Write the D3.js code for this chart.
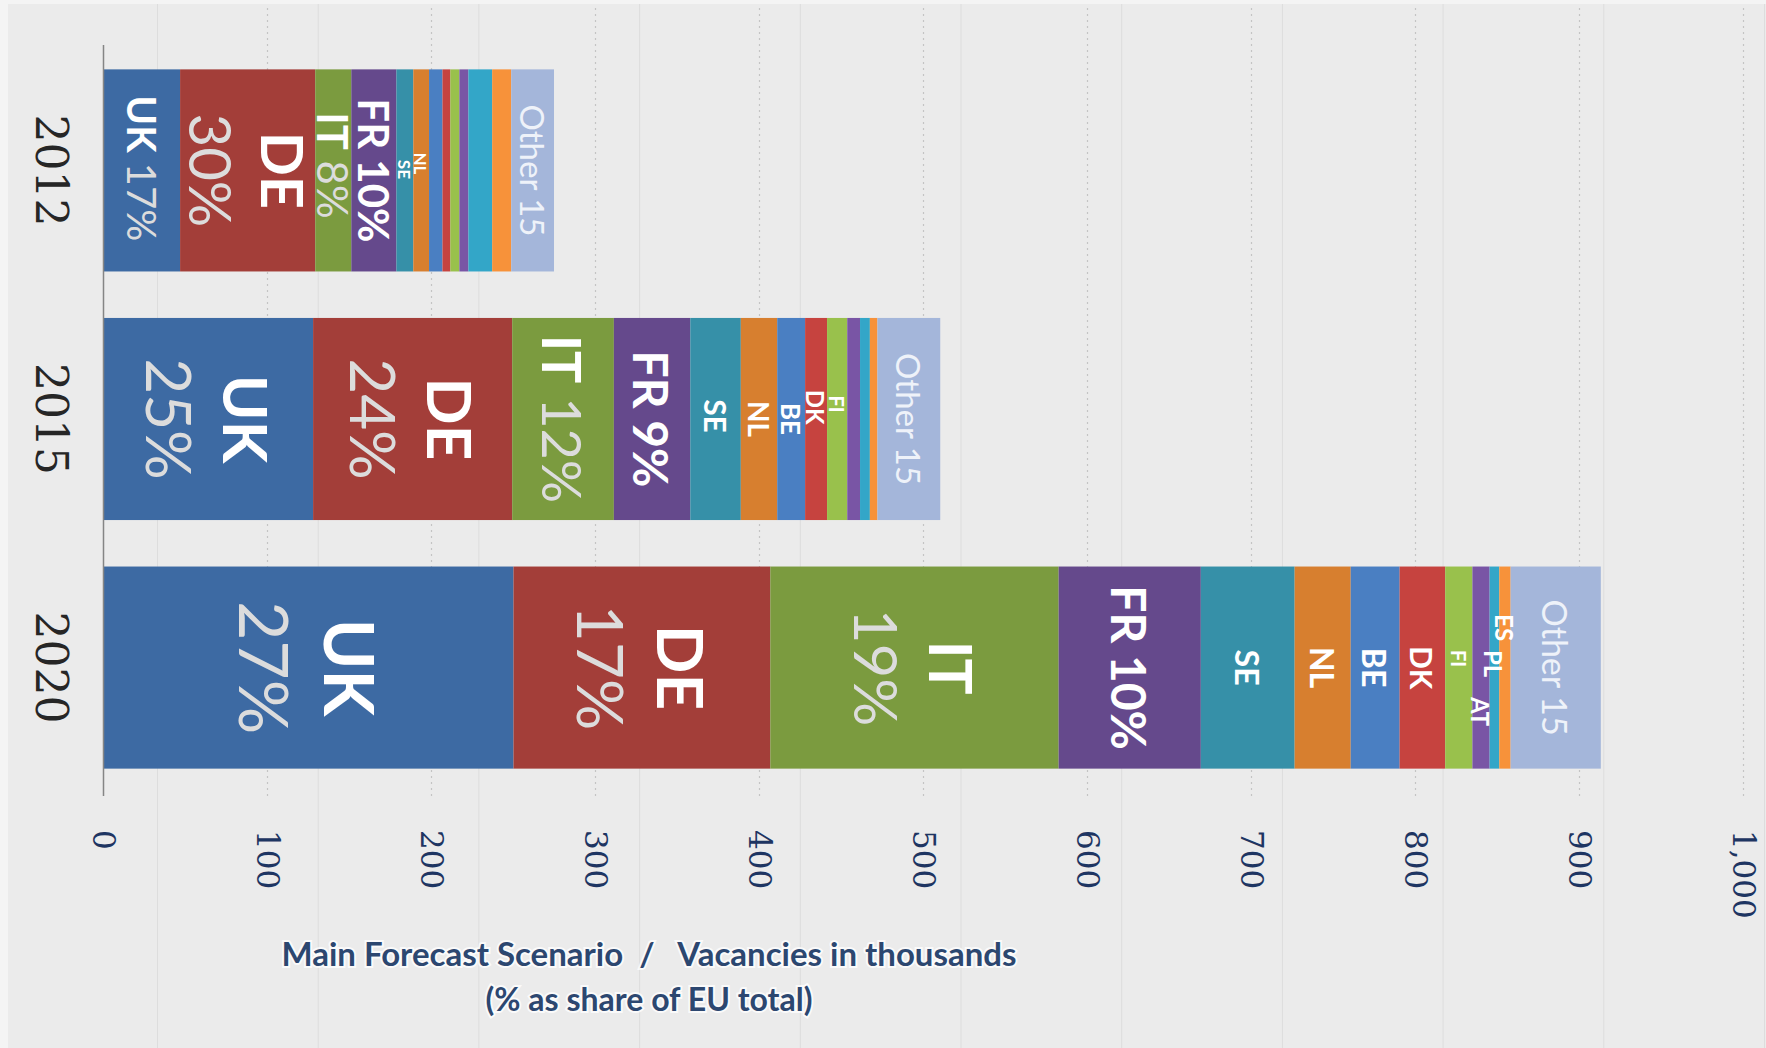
<!DOCTYPE html>
<html>
<head>
<meta charset="utf-8">
<script src="https://cdn.jsdelivr.net/npm/d3@7"></script>
<style>
  body { margin: 0; background: #f4f4f4; }
  svg { display: block; }
  text { white-space: pre; }
</style>
</head>
<body>
<svg id="chart"></svg>
<script>
// vacancies in thousands
const years = ["2012", "2015", "2020"];
const countries = ["UK", "DE", "IT", "FR", "SE", "NL", "BE", "DK", "FI", "AT", "PL", "ES", "Other 15"];
const vac2012 = [46.7, 82.4, 22.0, 27.5, 10.3, 9.6, 8.2, 4.8, 5.5, 5.5, 14.5, 11.6, 26.1];
const vac2015 = [127.8, 121.4, 62.0, 46.6, 30.8, 22.2, 17.0, 13.4, 12.3, 7.8, 6.0, 4.6, 38.3];
const vac2020 = [250.0, 156.6, 175.8, 86.7, 57.2, 34.2, 29.8, 27.8, 16.6, 10.5, 5.9, 6.9, 55.0];
const labels2012 = ["UK 17%", "DE\n30%", "IT 8%", "FR 10%", "SE", "NL", "", "", "", "", "", "", "Other 15"];
const labels2015 = ["UK\n25%", "DE\n24%", "IT 12%", "FR 9%", "SE", "NL", "BE", "DK", "FI", "", "", "", "Other 15"];
const labels2020 = ["UK\n27%", "DE\n17%", "IT\n19%", "FR 10%", "SE", "NL", "BE", "DK", "FI", "AT", "PL", "ES", "Other 15"];
const tickValues = [0, 100, 200, 300, 400, 500, 600, 700, 800, 900, 1000];
const titleLines = ["Main Forecast Scenario  /   Vacancies in thousands", "(% as share of EU total)"];

const values = { "2012": vac2012, "2015": vac2015, "2020": vac2020 };
const labels = { "2012": labels2012, "2015": labels2015, "2020": labels2020 };

const colors = ["#3d6aa3", "#a33e39", "#7b9b3f", "#65498c", "#3690a8", "#d77f2f",
  "#4a7fc2", "#c6433f", "#99c14c", "#7955a5", "#33a6c8", "#f7923a", "#a4b6da"];

// label sizes and nudges along the reading direction
const labelSize = {
  "2012": [40, 58, 42, 42, 17, 17, 0, 0, 0, 0, 0, 0, 33],
  "2015": [62, 62, 54, 48, 30, 28, 26, 24, 20, 0, 0, 0, 33],
  "2020": [68, 64, 60, 48, 32, 32, 32, 30, 20, 24, 24, 24, 34]
};
const labelShift = {
  "2012": { UK: -2, IT: -5, SE: -1, NL: -7 },
  "2015": { SE: -3, DK: -12, FI: -15 },
  "2020": { FI: -9, AT: 44, PL: -4, ES: -40 }
};

const width = 1766, height = 1048;
const svg = d3.select("#chart").attr("width", width).attr("height", height);

svg.append("rect").attr("x", 8).attr("y", 4)
  .attr("width", width - 8).attr("height", height - 4).attr("fill", "#ebebeb");

// faint slide background lines
svg.append("g").selectAll("line")
  .data(d3.range(157.5, width, 160.7))
  .join("line")
  .attr("x1", d => d).attr("x2", d => d)
  .attr("y1", 4).attr("y2", height)
  .attr("stroke", "#dddddd").attr("stroke-width", 1);

const x = d3.scaleLinear().domain([0, 1000]).range([103.5, 1743.5]);
const y = d3.scaleBand().domain(years).range([46, 792])
  .paddingInner(0.187).paddingOuter(0.094);

const rows = years.map(yr => {
  const r = { year: yr };
  countries.forEach((c, i) => { r[c] = values[yr][i]; });
  return r;
});
const stacked = d3.stack().keys(countries)(rows);

// dotted gridlines
svg.append("g").selectAll("line")
  .data(tickValues.slice(1))
  .join("line")
  .attr("x1", d => x(d)).attr("x2", d => x(d))
  .attr("y1", 8).attr("y2", 796)
  .attr("stroke", "#c4c4c4").attr("stroke-width", 1.2)
  .attr("stroke-dasharray", "2,4");

// bars
svg.append("g").selectAll("g")
  .data(stacked)
  .join("g")
  .attr("fill", (d, i) => colors[i])
  .selectAll("rect")
  .data(d => d)
  .join("rect")
  .attr("x", d => x(d[0]))
  .attr("y", d => y(d.data.year))
  .attr("width", d => x(d[1]) - x(d[0]))
  .attr("height", y.bandwidth());

// axis line
svg.append("line")
  .attr("x1", x(0)).attr("x2", x(0))
  .attr("y1", 45).attr("y2", 796)
  .attr("stroke", "#858585").attr("stroke-width", 1.5);

// tick labels, rotated
const fmt = d3.format(",");
svg.append("g").selectAll("text")
  .data(tickValues)
  .join("text")
  .attr("transform", d => "translate(" + x(d) + ",830) rotate(90)")
  .attr("text-anchor", "start")
  .attr("dominant-baseline", "central")
  .attr("font-family", "DejaVu Serif")
  .attr("font-size", 31)
  .attr("fill", "#1e3562")
  .text(d => fmt(d));

// year labels
svg.append("g").selectAll("text")
  .data(years)
  .join("text")
  .attr("transform", d => "translate(51," + (y(d) + y.bandwidth() / 2) + ") rotate(90)")
  .attr("text-anchor", "middle")
  .attr("dominant-baseline", "central")
  .attr("font-family", "DejaVu Serif")
  .attr("font-size", 44)
  .attr("fill", "#262626")
  .text(d => d);

// segment labels
const items = [];
years.forEach(yr => {
  countries.forEach((c, i) => {
    const t = labels[yr][i];
    if (!t) return;
    const seg = stacked[i].find(s => s.data.year === yr);
    items.push({
      year: yr, key: c, text: t, x0: seg[0], x1: seg[1],
      size: labelSize[yr][i], shift: (labelShift[yr][c] || 0)
    });
  });
});

const lab = svg.append("g").selectAll("g")
  .data(items)
  .join("g")
  .attr("transform", d => "translate(" + (x(d.x0) + x(d.x1)) / 2 + "," +
    (y(d.year) + y.bandwidth() / 2 + d.shift) + ") rotate(90)");

lab.each(function(d) {
  const g = d3.select(this);
  const lines = d.text.split("\n");
  lines.forEach((ln, li) => {
    const t = g.append("text")
      .attr("y", (li - (lines.length - 1) / 2) * d.size * 1.24)
      .attr("text-anchor", "middle")
      .attr("dominant-baseline", "central")
      .attr("font-family", "Lato")
      .attr("font-size", d.size);
    if (d.key === "Other 15") {
      t.append("tspan").attr("fill", "#eef2f9").text(ln);
      return;
    }
    ln.split(" ").forEach((tok, k) => {
      const pct = /%$/.test(tok);
      const plain = pct && d.key !== "FR";
      t.append("tspan")
        .attr("font-weight", plain ? 400 : 700)
        .attr("fill", plain ? "#dcdcdc" : "#ffffff")
        .text((k > 0 ? " " : "") + tok);
    });
  });
});

// axis title
const titleLen = [735, 327];
svg.append("g").selectAll("text")
  .data(titleLines)
  .join("text")
  .attr("x", 649)
  .attr("y", (d, i) => 966 + i * 45)
  .attr("text-anchor", "middle")
  .attr("font-family", "Lato")
  .attr("font-weight", 700)
  .attr("font-size", 32)
  .attr("textLength", (d, i) => titleLen[i])
  .attr("lengthAdjust", "spacingAndGlyphs")
  .attr("fill", "#2c4770")
  .attr("stroke", "#ffffff")
  .attr("stroke-width", 4)
  .attr("stroke-opacity", 0.75)
  .attr("paint-order", "stroke")
  .text(d => d);
</script>
</body>
</html>
